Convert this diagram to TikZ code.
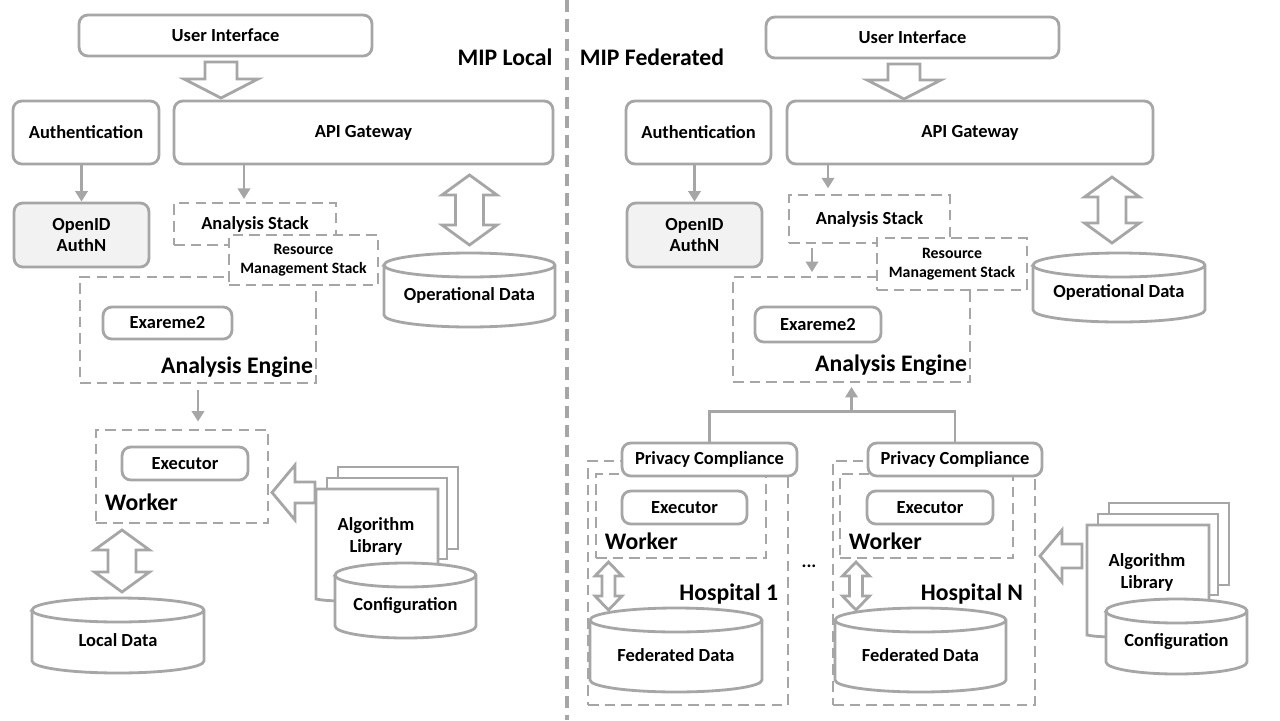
\documentclass[tikz,border=0pt]{standalone}
\usepackage{fontspec}
\setmainfont{Carlito}
\usetikzlibrary{positioning, arrows.meta, calc}

\definecolor{linegray}{RGB}{166,166,166}
\definecolor{idfill}{RGB}{242,242,242}

\newcommand{\lblfont}{\fontsize{10.5}{12.5}\selectfont\bfseries}
\newcommand{\smlfont}{\fontsize{9}{10.8}\selectfont\bfseries}
\newcommand{\bigfont}{\fontsize{13.5}{16}\selectfont\bfseries}

% database cylinder: name, left, right, top, bottom, text
\newcommand{\datacyl}[6]{%
  \pgfmathsetmacro\cylrx{((#3)-(#2))/2*0.02}%
  \pgfmathsetmacro\cylcx{((#2)+(#3))/2}%
  \pgfmathsetmacro\cylty{(#4)+12}%
  \pgfmathsetmacro\cylby{(#5)-12}%
  \pgfmathsetmacro\cylmy{((#4)+(#5))/2+5}%
  \filldraw[cylline] (#2,\cylty) -- (#2,\cylby) arc[start angle=180, end angle=360, x radius=\cylrx cm, y radius=0.24cm] -- (#3,\cylty) arc[start angle=0, end angle=180, x radius=\cylrx cm, y radius=0.24cm] -- cycle;
  \draw[cylline] (#2,\cylty) arc[start angle=180, end angle=360, x radius=\cylrx cm, y radius=0.24cm];
  \node[font=\lblfont] (#1) at (\cylcx,\cylmy) {#6};
}

% stacked pages plus configuration store: name, x, y of the front page
\newcommand{\algostack}[3]{%
  \begin{scope}[shift={(#2,#3)}]
    \draw[page] (22,-22) rectangle (142,60);
    \draw[page] (11,-11) rectangle (131,70);
    \draw[page] (0,0) -- (122,0) -- (122,100) .. controls (80,95) and (40,118) .. (0,110) -- cycle;
    \node[font=\lblfont, align=center] (#1) at (60,47) {Algorithm\\Library};
  \end{scope}
  \datacyl{#1cfg}{#2+19}{#2+160}{#3+74}{#3+149}{Configuration}
}

\tikzset{
  box/.style={draw=linegray, line width=1.6pt, rounded corners=5pt, fill=white, font=\lblfont, align=center, inner sep=0pt},
  dashbox/.style={draw=linegray, line width=1.6pt, dash pattern=on 6pt off 3.5pt, fill=white, inner sep=0pt},
  biglabel/.style={font=\bigfont, inner sep=0pt},
  cylline/.style={draw=linegray, fill=white, line width=1.6pt},
  page/.style={draw=linegray, fill=white, line width=1.6pt},
  hollow/.style={draw=linegray, fill=white, line width=1.6pt, line join=miter},
  conn/.style={draw=linegray, line width=1.6pt, -{Triangle[length=6pt,width=7pt]}},
  link/.style={draw=linegray, line width=1.6pt},
  divider/.style={draw=linegray, line width=1.8pt, dash pattern=on 7pt off 4pt}
}

\begin{document}
\begin{tikzpicture}[x=0.02cm, y=-0.02cm]
\useasboundingbox[fill=white] (0,0) rectangle (1280,720);

\draw[divider] (567,0) -- (567,720);

% ---------------- MIP Local ----------------
\node[biglabel] (localtitle) at (505,57) {MIP Local};
\node[box, minimum width=5.86cm, minimum height=0.82cm] (ui) at (225.5,35.5) {User Interface};
\node[box, minimum width=2.92cm, minimum height=1.26cm] (auth) at (86,132.5) {Authentication};
\node[box, minimum width=7.58cm, minimum height=1.26cm] (api) at (363.5,132.5) {API Gateway};
\node[box, fill=idfill, minimum width=2.70cm, minimum height=1.28cm] (openid) at (81.5,235) {OpenID\\AuthN};
% block arrow user interface -> gateway
\draw[hollow] (205,62) -- (237,62) -- (237,79) -- (258,79) -- (221,98) -- (184,79) -- (205,79) -- cycle;

\node[dashbox, minimum width=4.72cm, minimum height=2.12cm] (engine) at (198,330) {};
\node[box, minimum width=2.58cm, minimum height=0.64cm] (exa) at (167.5,323) {Exareme2};
\node[biglabel, anchor=base east] (enginelbl) at ([xshift=-0.08cm,yshift=0.22cm]engine.south east) {Analysis Engine};
\node[dashbox, font=\lblfont, minimum width=3.24cm, minimum height=0.84cm] (stack) at (255,224) {Analysis Stack};
\node[dashbox, font=\smlfont, align=center, minimum width=2.98cm, minimum height=1.0cm] (rms) at (303.5,260) {Resource\\Management Stack};

% gateway <-> operational data
\draw[hollow] (469.5,175) -- (497,195) -- (483.5,195) -- (483.5,225) -- (497,225) -- (469.5,245) -- (442,225) -- (455.5,225) -- (455.5,195) -- (442,195) -- cycle;
\datacyl{opdata}{384}{555}{253}{327}{Operational Data}

\node[dashbox, minimum width=3.44cm, minimum height=1.86cm] (worker) at (182,476.5) {};
\node[box, minimum width=2.52cm, minimum height=0.66cm] (exec) at (185,463.5) {Executor};
\node[biglabel, anchor=base west] (workerlbl) at ([xshift=0.2cm,yshift=0.28cm]worker.south west) {Worker};
% library -> worker
\draw[hollow] (272,492.5) -- (295,465) -- (295,482) -- (315,482) -- (315,503) -- (295,503) -- (295,520) -- cycle;
\algostack{algo}{316}{489}
% worker <-> local data
\draw[hollow] (122,530) -- (149.5,550) -- (136,550) -- (136,572) -- (149.5,572) -- (122,592) -- (94.5,572) -- (108,572) -- (108,550) -- (94.5,550) -- cycle;
\datacyl{localdata}{32}{204}{598}{673}{Local Data}

\draw[conn] (openid.north |- auth.south) -- (openid.north);
\draw[conn, shorten >=1.5pt] ([xshift=-0.22cm]stack.north |- api.south) -- ([xshift=-0.22cm]stack.north);
\draw[conn, shorten <=3pt, shorten >=4pt] (engine.south) -- (engine.south |- worker.north);

% ---------------- MIP Federated ----------------
\node[biglabel] (fedtitle) at (652,57) {MIP Federated};
\node[box, minimum width=5.86cm, minimum height=0.82cm] (ui2) at (912.5,37.5) {User Interface};
\node[box, minimum width=2.90cm, minimum height=1.26cm] (auth2) at (698.5,132.5) {Authentication};
\node[box, minimum width=7.32cm, minimum height=1.26cm] (api2) at (970,132.5) {API Gateway};
\node[box, fill=idfill, minimum width=2.70cm, minimum height=1.28cm] (openid2) at (694.5,235) {OpenID\\AuthN};
\draw[hollow] (888,64) -- (920,64) -- (920,80) -- (941,80) -- (904,99) -- (867,80) -- (888,80) -- cycle;

\node[dashbox, minimum width=4.74cm, minimum height=2.10cm] (engine2) at (851.5,329.5) {};
\node[box, minimum width=2.52cm, minimum height=0.70cm] (exa2) at (818,324.5) {Exareme2};
\node[biglabel, anchor=base east] (enginelbl2) at ([xshift=-0.08cm,yshift=0.24cm]engine2.south east) {Analysis Engine};
\node[dashbox, font=\lblfont, minimum width=3.22cm, minimum height=0.96cm] (stack2) at (869.5,219) {Analysis Stack};
\node[dashbox, font=\smlfont, align=center, minimum width=3.0cm, minimum height=1.04cm] (rms2) at (952,264) {Resource\\Management Stack};

\draw[hollow] (1112,177) -- (1139.5,197) -- (1126,197) -- (1126,223) -- (1139.5,223) -- (1112,243) -- (1084.5,223) -- (1098,223) -- (1098,197) -- (1084.5,197) -- cycle;
\datacyl{opdata2}{1033}{1205}{253}{322}{Operational Data}

% hospital 1
\node[dashbox, minimum width=4.0cm, minimum height=4.88cm] (hosp1) at (688,583) {};
\node[dashbox, minimum width=3.40cm, minimum height=1.68cm] (worker1) at (681,516) {};
\node[box, minimum width=3.5cm, minimum height=0.66cm] (pc1) at (709.5,459.5) {Privacy Compliance};
\node[box, minimum width=2.5cm, minimum height=0.66cm] (exec1) at (684.5,507.5) {Executor};
\node[biglabel, anchor=base west] (workerlbl1) at ([xshift=0.2cm,yshift=0.2cm]worker1.south west) {Worker};
\node[biglabel, anchor=base east] (hosplbl1) at ([xshift=-0.22cm,yshift=2.12cm]hosp1.south east) {Hospital 1};
\draw[hollow] (608.5,562) -- (622,576) -- (615,576) -- (615,596) -- (622,596) -- (608.5,610) -- (595,596) -- (602,596) -- (602,576) -- (595,576) -- cycle;
\datacyl{fed1}{590}{762}{608}{692}{Federated Data}

% hospital N
\node[dashbox, minimum width=4.04cm, minimum height=4.88cm] (hospN) at (934,583) {};
\node[dashbox, minimum width=3.46cm, minimum height=1.68cm] (workerN) at (926.5,516) {};
\node[box, minimum width=3.48cm, minimum height=0.66cm] (pc2) at (955,459.5) {Privacy Compliance};
\node[box, minimum width=2.52cm, minimum height=0.66cm] (execN) at (930,507.5) {Executor};
\node[biglabel, anchor=base west] (workerlblN) at ([xshift=0.2cm,yshift=0.2cm]workerN.south west) {Worker};
\node[biglabel, anchor=base east] (hosplblN) at ([xshift=-0.26cm,yshift=2.12cm]hospN.south east) {Hospital N};
\draw[hollow] (856,562) -- (869.5,576) -- (862.5,576) -- (862.5,596) -- (869.5,596) -- (856,610) -- (842.5,596) -- (849.5,596) -- (849.5,576) -- (842.5,576) -- cycle;
\datacyl{fedN}{835}{1006}{608}{692}{Federated Data}

\node[font=\lblfont] (dots) at (809,566) {...};

\draw[hollow] (1040,556) -- (1062,530) -- (1062,544) -- (1082,544) -- (1082,568) -- (1062,568) -- (1062,582) -- cycle;
\algostack{algo2}{1087}{525}

\draw[conn] (openid2.north |- auth2.south) -- (openid2.north);
\draw[conn, shorten >=3pt] ([xshift=-0.83cm]stack2.north |- api2.south) -- ([xshift=-0.83cm]stack2.north);
\draw[conn, shorten <=2pt, shorten >=2pt] ([xshift=-1.15cm]stack2.south) -- ([xshift=-1.15cm]stack2.south |- engine2.north);
\draw[link] (pc1.north) -- ++(0,-30) coordinate (bus) -| (pc2.north);
\draw[conn, shorten >=2pt] (bus -| engine2.south) -- (engine2.south);
\end{tikzpicture}
\end{document}
